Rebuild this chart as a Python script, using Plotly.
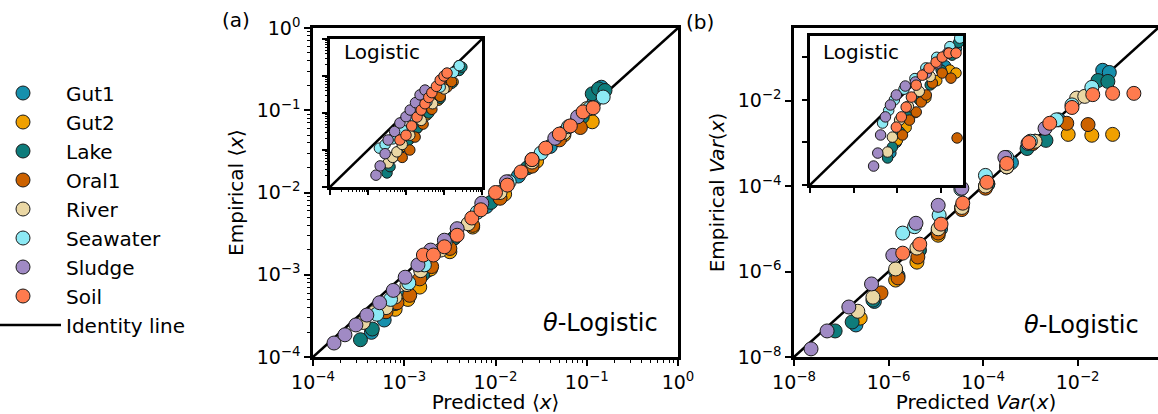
import numpy as np
import plotly.graph_objects as go

W, H = 1158, 414
FONT = "DejaVu Sans"

# ---------------- data (log10 values) ----------------
NAMES = ["Gut1", "Gut2", "Lake", "Oral1", "River", "Seawater", "Sludge", "Soil"]
COLORS = ["#1690ad", "#f0a000", "#0e7c7b", "#cc6200", "#ead7a4", "#8ce9f4", "#a08ac4", "#ff7b4e"]

# Panel (a): mean abundance, theta-logistic
A_GUT1_PRED = [-3.36, -3.22, -3.0, -2.75, -2.45, -2.1, -1.75, -1.4, -1.1, -0.92, -0.88, -0.84]
A_GUT1_EMP = [-3.70, -3.55, -3.28, -2.95, -2.55, -2.17, -1.8, -1.44, -1.12, -0.9, -0.78, -0.72]
A_GUT2_PRED = [-3.1, -2.96, -2.83, -2.71, -2.5, -2.25, -1.9, -1.55, -1.25, -1.02, -0.94]
A_GUT2_EMP = [-3.42, -3.3, -3.15, -2.93, -2.72, -2.42, -2.02, -1.62, -1.3, -1.13, -1.14]
A_LAKE_PRED = [-3.48, -3.35, -3.1, -2.8, -2.45, -2.05, -1.65, -1.3, -1.05, -0.94, -0.87, -0.80]
A_LAKE_EMP = [-3.79, -3.66, -3.35, -3.0, -2.55, -2.12, -1.7, -1.33, -1.08, -0.80, -0.74, -0.76]
A_ORAL1_PRED = [-3.2, -3.08, -2.94, -2.83, -2.7, -2.5, -2.25, -1.95, -1.6, -1.3, -1.07]
A_ORAL1_EMP = [-3.45, -3.34, -3.25, -3.05, -2.9, -2.68, -2.4, -2.07, -1.68, -1.36, -1.21]
A_RIVER_PRED = [-3.45, -3.33, -3.2, -3.1, -2.97, -2.82, -2.6, -2.3, -1.95, -1.6, -1.25, -1.0]
A_RIVER_EMP = [-3.58, -3.46, -3.40, -3.27, -3.12, -2.95, -2.7, -2.38, -2.0, -1.63, -1.27, -0.98]
A_SEA_PRED = [-3.3, -3.15, -2.95, -2.78, -2.55, -2.2, -1.85, -1.5, -1.2, -0.97, -0.82]
A_SEA_EMP = [-3.48, -3.3, -3.1, -2.88, -2.6, -2.24, -1.87, -1.52, -1.2, -0.98, -0.84]
A_SLUDGE_PRED = [-3.77, -3.65, -3.53, -3.41, -3.27, -3.12, -2.99, -2.85, -2.71, -2.56, -2.42, -2.15, -1.88, -1.6, -1.35, -1.1]
A_SLUDGE_EMP = [-3.83, -3.73, -3.61, -3.49, -3.34, -3.19, -3.03, -2.88, -2.70, -2.58, -2.44, -2.13, -1.87, -1.6, -1.34, -1.08]
A_SOIL_PRED = [-2.79, -2.68, -2.56, -2.42, -2.26, -2.16, -2.0, -1.87, -1.72, -1.6, -1.45, -1.30, -1.18, -1.04, -0.93]
A_SOIL_EMP = [-2.76, -2.76, -2.66, -2.52, -2.31, -2.21, -2.0, -1.91, -1.75, -1.6, -1.46, -1.29, -1.19, -1.02, -0.97]

# Panel (a) inset: mean abundance, logistic
AI_GUT1_PRED = [-2.35, -2.2, -2.0, -1.75, -1.45, -1.15, -0.85, -0.65, -0.6]
AI_GUT1_EMP = [-3.2, -3.05, -2.8, -2.45, -2.05, -1.65, -1.2, -0.85, -0.72]
AI_GUT2_PRED = [-2.2, -2.05, -1.9, -1.7, -1.45, -1.15, -0.85, -0.76]
AI_GUT2_EMP = [-3.05, -2.9, -2.7, -2.4, -2.05, -1.65, -1.2, -1.16]
AI_LAKE_PRED = [-2.5, -2.42, -2.2, -1.95, -1.7, -1.4, -1.1, -0.8, -0.6, -0.53]
AI_LAKE_EMP = [-3.62, -3.45, -3.1, -2.75, -2.4, -2.0, -1.6, -1.2, -0.85, -0.76]
AI_ORAL1_PRED = [-2.1, -1.9, -1.76, -1.55, -1.32, -1.1, -0.92, -0.8]
AI_ORAL1_EMP = [-3.2, -3.0, -2.65, -2.3, -1.9, -1.55, -1.3, -1.15]
AI_RIVER_PRED = [-2.47, -2.35, -2.24, -2.1, -1.9, -1.6, -1.3, -1.0]
AI_RIVER_EMP = [-3.35, -3.2, -3.05, -2.85, -2.6, -2.2, -1.75, -1.35]
AI_SEA_PRED = [-2.7, -2.55, -2.35, -2.1, -1.8, -1.45, -1.1, -0.75, -0.6]
AI_SEA_EMP = [-2.95, -2.85, -2.7, -2.45, -2.1, -1.7, -1.3, -0.9, -0.72]
AI_SLUDGE_PRED = [-2.79, -2.68, -2.55, -2.47, -2.3, -2.16, -2.0, -1.89, -1.75, -1.63, -1.5]
AI_SLUDGE_EMP = [-3.68, -3.43, -3.1, -2.73, -2.5, -2.27, -2.1, -1.92, -1.72, -1.51, -1.38]
AI_SOIL_PRED = [-2.16, -2.0, -1.85, -1.71, -1.6, -1.5, -1.4, -1.32, -1.2, -1.1, -1.0, -0.92]
AI_SOIL_EMP = [-2.73, -2.6, -2.35, -2.11, -1.92, -1.75, -1.58, -1.45, -1.28, -1.11, -1.0, -0.92]

# Panel (b): variance, theta-logistic
B_GUT1_PRED = [-6.69, -6.3, -5.8, -5.35, -4.9, -4.45, -3.9, -3.4, -2.9, -2.4, -1.47, -1.33]
B_GUT1_EMP = [-7.25, -6.7, -6.1, -5.5, -5.0, -4.5, -3.95, -3.45, -2.95, -2.45, -1.29, -1.34]
B_GUT2_PRED = [-6.6, -5.85, -5.40, -4.95, -4.45, -3.95, -3.5, -2.95, -2.2, -1.7, -1.26]
B_GUT2_EMP = [-7.09, -6.2, -5.78, -5.15, -4.5, -4.0, -3.55, -3.0, -2.79, -2.81, -2.79]
B_LAKE_PRED = [-7.13, -6.77, -6.33, -5.85, -5.35, -4.95, -4.45, -3.9, -3.07, -2.67, -1.57, -1.36]
B_LAKE_EMP = [-7.39, -7.18, -6.67, -6.0, -5.5, -5.05, -4.5, -3.95, -3.12, -2.93, -1.53, -1.55]
B_ORAL1_PRED = [-6.16, -5.80, -5.38, -4.95, -4.45, -3.95, -3.5, -2.95, -2.23, -1.78]
B_ORAL1_EMP = [-6.5, -6.15, -5.66, -5.1, -4.55, -4.05, -3.55, -3.0, -2.53, -2.56]
B_RIVER_PRED = [-6.65, -6.33, -5.85, -5.40, -4.95, -4.45, -3.95, -3.5, -2.9, -2.02, -1.85]
B_RIVER_EMP = [-6.93, -6.60, -5.94, -5.45, -5.0, -4.5, -4.0, -3.55, -2.95, -1.94, -1.9]
B_SEA_PRED = [-5.70, -5.45, -4.93, -4.47, -3.95, -3.5, -3.0, -2.45, -2.12, -1.70]
B_SEA_EMP = [-5.10, -4.95, -4.68, -4.07, -3.75, -3.33, -2.95, -2.45, -2.1, -1.69]
B_SLUDGE_PRED = [-7.64, -7.30, -6.84, -6.36, -5.91, -5.42, -4.95, -4.45, -3.54, -3.05, -2.69]
B_SLUDGE_EMP = [-7.81, -7.39, -6.83, -6.29, -5.62, -4.87, -4.45, -4.05, -3.33, -3.0, -2.65]
B_SOIL_PRED = [-5.70, -5.34, -4.89, -4.43, -3.92, -3.50, -3.03, -2.59, -2.12, -1.68, -1.26, -0.81]
B_SOIL_EMP = [-5.57, -5.36, -4.89, -4.40, -3.91, -3.47, -2.98, -2.53, -2.16, -1.86, -1.83, -1.83]

# Panel (b) inset: variance, logistic
BI_GUT1_PRED = [-4.3, -4.05, -3.7, -3.3, -2.8, -2.3, -1.8, -1.3, -1.15]
BI_GUT1_EMP = [-6.5, -6.0, -5.3, -4.6, -3.8, -3.1, -2.4, -1.6, -1.2]
BI_GUT2_PRED = [-4.0, -3.6, -3.2, -2.7, -2.2, -1.6, -1.32]
BI_GUT2_EMP = [-5.9, -5.3, -4.6, -3.9, -3.1, -2.6, -2.74]
BI_LAKE_PRED = [-4.45, -4.23, -3.9, -3.5, -3.0, -2.5, -2.0, -1.5, -1.2]
BI_LAKE_EMP = [-6.73, -6.22, -5.5, -4.8, -4.0, -3.3, -2.6, -1.9, -1.3]
BI_ORAL1_PRED = [-3.77, -3.45, -3.14, -2.91, -2.68, -2.4, -1.95, -1.55, -1.27]
BI_ORAL1_EMP = [-5.65, -4.95, -4.57, -4.1, -3.77, -3.21, -2.74, -2.98, -5.79]
BI_RIVER_PRED = [-4.45, -4.23, -3.9, -3.5, -3.0, -2.5]
BI_RIVER_EMP = [-6.45, -5.75, -4.95, -4.3, -3.6, -2.9]
BI_SEA_PRED = [-4.68, -4.4, -4.14, -3.7, -3.2, -2.7, -2.2, -1.6, -1.15]
BI_SEA_EMP = [-5.09, -4.5, -4.0, -3.5, -3.0, -2.5, -2.0, -1.5, -1.1]
BI_SLUDGE_PRED = [-5.09, -4.9, -4.77, -4.55, -4.32, -4.05, -3.64, -3.18, -2.68, -2.2, -1.7]
BI_SLUDGE_EMP = [-7.11, -6.5, -5.65, -4.8, -4.24, -3.77, -3.35, -3.16, -2.74, -2.3, -1.8]
BI_SOIL_PRED = [-4.05, -3.82, -3.6, -3.36, -3.14, -2.86, -2.55, -2.23, -1.95, -1.64, -1.32]
BI_SOIL_EMP = [-5.28, -4.8, -4.34, -3.87, -3.31, -2.84, -2.51, -2.23, -1.99, -1.8, -1.8]

PANEL_A = [(A_GUT1_PRED, A_GUT1_EMP), (A_GUT2_PRED, A_GUT2_EMP), (A_LAKE_PRED, A_LAKE_EMP),
           (A_ORAL1_PRED, A_ORAL1_EMP), (A_RIVER_PRED, A_RIVER_EMP), (A_SEA_PRED, A_SEA_EMP),
           (A_SLUDGE_PRED, A_SLUDGE_EMP), (A_SOIL_PRED, A_SOIL_EMP)]
PANEL_AI = [(AI_GUT1_PRED, AI_GUT1_EMP), (AI_GUT2_PRED, AI_GUT2_EMP), (AI_LAKE_PRED, AI_LAKE_EMP),
            (AI_ORAL1_PRED, AI_ORAL1_EMP), (AI_RIVER_PRED, AI_RIVER_EMP), (AI_SEA_PRED, AI_SEA_EMP),
            (AI_SLUDGE_PRED, AI_SLUDGE_EMP), (AI_SOIL_PRED, AI_SOIL_EMP)]
PANEL_B = [(B_GUT1_PRED, B_GUT1_EMP), (B_GUT2_PRED, B_GUT2_EMP), (B_LAKE_PRED, B_LAKE_EMP),
           (B_ORAL1_PRED, B_ORAL1_EMP), (B_RIVER_PRED, B_RIVER_EMP), (B_SEA_PRED, B_SEA_EMP),
           (B_SLUDGE_PRED, B_SLUDGE_EMP), (B_SOIL_PRED, B_SOIL_EMP)]
PANEL_BI = [(BI_GUT1_PRED, BI_GUT1_EMP), (BI_GUT2_PRED, BI_GUT2_EMP), (BI_LAKE_PRED, BI_LAKE_EMP),
            (BI_ORAL1_PRED, BI_ORAL1_EMP), (BI_RIVER_PRED, BI_RIVER_EMP), (BI_SEA_PRED, BI_SEA_EMP),
            (BI_SLUDGE_PRED, BI_SLUDGE_EMP), (BI_SOIL_PRED, BI_SOIL_EMP)]

A_TICK_EXP = [-4, -3, -2, -1, 0]
B_TICK_EXP = [-8, -6, -4, -2]


def xdom(p0, p1):
    return [p0 / W, min(p1 / W, 1.0)]


def ydom(top, bot):
    return [1 - bot / H, 1 - top / H]


def pow10(v):
    return np.power(10.0, np.asarray(v, dtype=float))


def sup_label(e):
    return "10<sup>" + (("\u2212" + str(-e)) if e < 0 else str(e)) + "</sup>"


fig = go.Figure()

# identity lines (drawn first so the markers sit on top)
for ax, lo, hi, show in [("", -4, 0, True), ("2", -8, 0, False), ("3", -4, 0, False), ("4", -8, -1, False)]:
    fig.add_trace(go.Scatter(
        x=pow10([lo, hi]), y=pow10([lo, hi]), mode="lines",
        line=dict(color="black", width=2.5), name="Identity line",
        showlegend=show, legendrank=2000, hoverinfo="skip",
        xaxis="x" + ax, yaxis="y" + ax))

for panel, ax, size in [(PANEL_A, "", 14), (PANEL_B, "2", 14), (PANEL_AI, "3", 10.5), (PANEL_BI, "4", 10.5)]:
    for i, (pred, emp) in enumerate(panel):
        fig.add_trace(go.Scatter(
            x=pow10(pred), y=pow10(emp), mode="markers", name=NAMES[i],
            marker=dict(size=size, color=COLORS[i], line=dict(color="#1a1a1a", width=1)),
            showlegend=(ax == ""), legendrank=1000 + i,
            xaxis="x" + ax, yaxis="y" + ax))


def minor_vals(lo, hi):
    return [k * 10.0 ** e for e in range(lo, hi) for k in range(2, 10)]


def main_axis(domain, rng, ticks, minor, title, standoff, anchor, mirror=True):
    d = dict(domain=domain, anchor=anchor, automargin=False, type="log", range=rng,
             showgrid=False, zeroline=False,
             showline=True, linecolor="black", linewidth=2.5, mirror=mirror,
             ticks="outside", ticklen=6, tickwidth=2.2, tickcolor="black",
             tickmode="array", tickvals=[10.0 ** e for e in ticks],
             ticktext=[sup_label(e) for e in ticks],
             tickfont=dict(family=FONT, size=19, color="black"),
             title=dict(text=title, font=dict(family=FONT, size=20, color="black"), standoff=standoff))
    if minor:
        d["minor"] = dict(tickmode="array", tickvals=minor, ticks="outside", ticklen=3,
                          tickwidth=1, tickcolor="black", showgrid=False)
    return d


def inset_axis(domain, rng, ticks, minor, anchor):
    d = dict(domain=domain, anchor=anchor, automargin=False, type="log", range=rng,
             showgrid=False, zeroline=False,
             showline=True, linecolor="black", linewidth=2.5, mirror=True,
             ticks="outside", ticklen=5, tickwidth=2, tickcolor="black",
             tickmode="array", tickvals=[10.0 ** e for e in ticks], showticklabels=False)
    if minor:
        d["minor"] = dict(tickmode="array", tickvals=minor, ticks="outside", ticklen=2.5,
                          tickwidth=1, tickcolor="black", showgrid=False)
    return d


fig.update_layout(
    width=W, height=H, margin=dict(l=0, r=0, t=0, b=0, autoexpand=False),
    paper_bgcolor="white", plot_bgcolor="white",
    font=dict(family=FONT, color="black"),
    xaxis=main_axis(xdom(313, 678), [-4, 0], A_TICK_EXP, minor_vals(-4, 0),
                    "Predicted \u27e8<i>x</i>\u27e9", 8, "y"),
    yaxis=main_axis(ydom(28, 357), [-4, 0], A_TICK_EXP, minor_vals(-4, 0),
                    "Empirical \u27e8<i>x</i>\u27e9", 8, "x"),
    xaxis2=main_axis(xdom(794, 1158), [-8, -0.3], B_TICK_EXP, None,
                     "Predicted <i>Var</i>(<i>x</i>)", 8, "y2"),
    yaxis2=main_axis(ydom(28, 357), [-8, -0.3], B_TICK_EXP, None,
                     "Empirical <i>Var</i>(<i>x</i>)", 8, "x2", mirror=False),
    xaxis3=inset_axis(xdom(330, 482), [-4, 0], A_TICK_EXP, minor_vals(-4, 0), "y3"),
    yaxis3=inset_axis(ydom(39, 187), [-4, 0], A_TICK_EXP, minor_vals(-4, 0), "x3"),
    xaxis4=inset_axis(xdom(810, 963), [-8, -1], B_TICK_EXP, None, "y4"),
    yaxis4=inset_axis(ydom(36, 185), [-8, -1], B_TICK_EXP, None, "x4"),
    legend=dict(x=-20 / W, y=1 - 73.5 / H, xanchor="left", yanchor="top",
                font=dict(family=FONT, size=20, color="black"), itemwidth=76,
                bgcolor="rgba(0,0,0,0)", borderwidth=0, itemsizing="trace"),
    showlegend=True,
)


def px_annot(text, x, y, size, xanchor="center"):
    fig.add_annotation(text=text, x=x / W, y=1 - y / H, xref="paper", yref="paper",
                       xanchor=xanchor, yanchor="middle", showarrow=False,
                       font=dict(family=FONT, size=size, color="black"))


px_annot("(a)", 236, 20, 20)
px_annot("(b)", 700, 22, 20)
px_annot("<i>\u03b8</i>-Logistic", 660, 323, 24, "right")
px_annot("<i>\u03b8</i>-Logistic", 1141, 325, 24, "right")
px_annot("Logistic", 342, 52, 20, "left")
px_annot("Logistic", 821, 52, 20, "left")

fig.write_html("out.html")
